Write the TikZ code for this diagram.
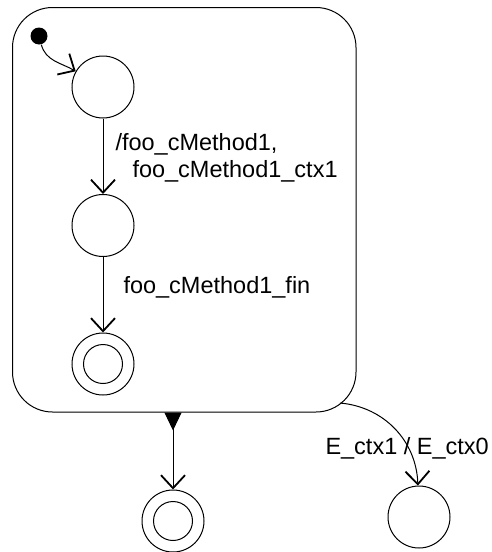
\documentclass[tikz,border=0pt]{standalone}
\usepackage{fontspec}
\setmainfont{Liberation Sans}
\usetikzlibrary{arrows.meta, positioning}

\begin{document}
\begin{tikzpicture}[
  x=1pt, y=-1pt,
  line width=1pt,
  font=\fontsize{23.5}{27}\selectfont,
  state/.style={circle, draw, minimum size=62pt, inner sep=0pt},
  finalst/.style={state, path picture={\draw (path picture bounding box.center) circle (19.5pt);}},
  initst/.style={circle, fill, minimum size=17pt, inner sep=0pt},
  trans/.style={-{Straight Barb[length=13pt, width=24pt, line width=1.8pt]}},
  lbl/.style={anchor=west, inner sep=0pt, align=left},
]
  \useasboundingbox (0,0) rectangle (492,552);

  % composite state
  \node[draw, rounded corners=40pt, minimum width=343.5pt, minimum height=404.5pt, inner sep=0pt] (ctx) at (184.25,209.75) {};

  \node[initst] (init) at (39,36) {};
  \node[state] (s1) at (103,87) {};
  \node[state] (s2) at (103,225.5) {};
  \node[finalst] (fin1) at (103,364) {};

  \draw[trans] (init) to[out=-75, in=150] (s1);
  \draw[trans] (s1) -- (s2);
  \draw[trans] (s2) -- (fin1);

  \node[lbl] (l1) at (115,158) {/foo\_cMethod1,\\\hspace*{17pt}foo\_cMethod1\_ctx1};
  \node[lbl] (l2) at (123,287) {foo\_cMethod1\_fin};

  % outside
  \node[finalst] (fin2) at (173,521) {};
  \node[state] (s3) at (419,517) {};

  \draw[{Triangle[reversed, length=18pt, width=17pt]}-{Straight Barb[length=13pt, width=24pt, line width=1.8pt]}] (ctx.south -| fin2) -- (fin2);

  \coordinate (exit) at (340,403);
  \draw[trans] (exit) to[out=-5, in=92] (s3);
  \node[lbl] (l3) at (325,448) {E\_ctx1 / E\_ctx0};
\end{tikzpicture}
\end{document}
